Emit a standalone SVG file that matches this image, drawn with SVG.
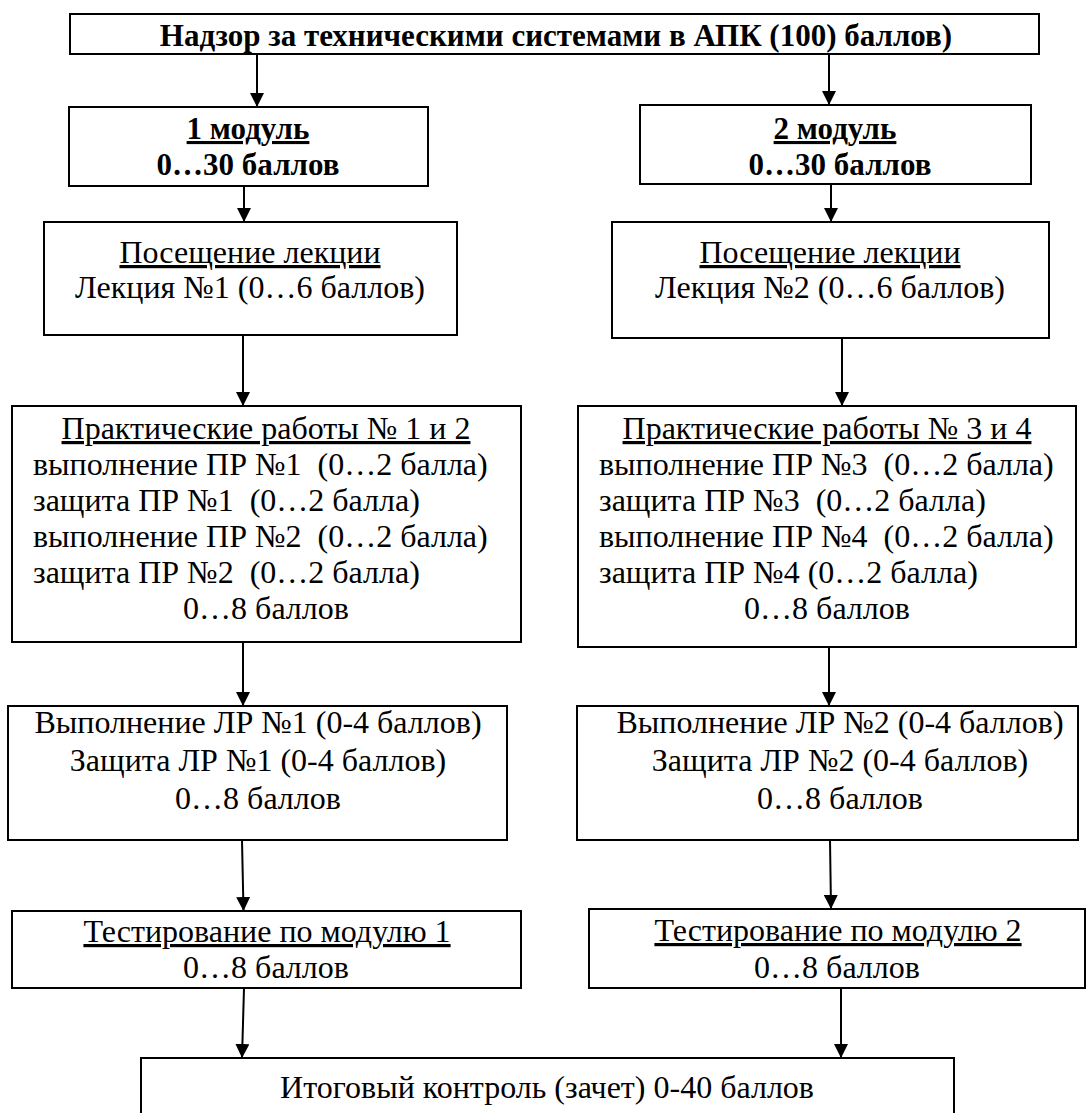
<svg xmlns="http://www.w3.org/2000/svg" width="1090" height="1113" viewBox="0 0 1090 1113">
<style>
  .box { fill: #fff; stroke: #000; stroke-width: 2; }
  .t { font-size: 32px; }
  .b { font-size: 31px; font-weight: bold; }
  .c { text-anchor: middle; }
  .u { text-decoration: underline; }
  .conn line { stroke: #000; stroke-width: 2; }
</style>
<defs>
  <marker id="ah" markerWidth="14" markerHeight="14" viewBox="0 0 14 14" refX="14" refY="7" orient="auto" markerUnits="userSpaceOnUse">
    <path d="M0,0 L14,7 L0,14 Z" fill="#000"/>
  </marker>
</defs>
<rect width="1090" height="1113" fill="#fff"/>

<g id="top">
  <rect class="box" x="70" y="14" width="969" height="40"/>
  <text class="b c" font-family="Times New Roman" x="556" y="46">Надзор за техническими системами в АПК (100) баллов)</text>
</g>

<g id="module1">
  <rect class="box" x="69" y="107" width="359" height="79"/>
  <text class="b c u" font-family="Times New Roman" x="248" y="139">1 модуль</text>
  <text class="b c" font-family="Times New Roman" x="248" y="175">0…30 баллов</text>
</g>

<g id="module2">
  <rect class="box" x="640" y="105" width="391" height="79"/>
  <text class="b c u" font-family="Times New Roman" x="835" y="139">2 модуль</text>
  <text class="b c" font-family="Times New Roman" x="840" y="175">0…30 баллов</text>
</g>

<g id="lecture1">
  <rect class="box" x="44" y="222" width="413" height="113"/>
  <text class="t c u" font-family="Times New Roman" x="250" y="263">Посещение лекции</text>
  <text class="t c" font-family="Times New Roman" x="250" y="298">Лекция №1 (0…6 баллов)</text>
</g>

<g id="lecture2">
  <rect class="box" x="612" y="222" width="437" height="116"/>
  <text class="t c u" font-family="Times New Roman" x="830" y="263">Посещение лекции</text>
  <text class="t c" font-family="Times New Roman" x="830" y="298">Лекция №2 (0…6 баллов)</text>
</g>

<g id="pr1">
  <rect class="box" x="12" y="406" width="509" height="236"/>
  <text class="t c u" font-family="Times New Roman" x="266" y="439">Практические работы № 1 и 2</text>
  <text class="t" font-family="Times New Roman" x="33" y="475">выполнение ПР №1 &#160;(0…2 балла)</text>
  <text class="t" font-family="Times New Roman" x="33" y="511">защита ПР №1 &#160;(0…2 балла)</text>
  <text class="t" font-family="Times New Roman" x="33" y="547">выполнение ПР №2 &#160;(0…2 балла)</text>
  <text class="t" font-family="Times New Roman" x="33" y="583">защита ПР №2 &#160;(0…2 балла)</text>
  <text class="t c" font-family="Times New Roman" x="266" y="619">0…8 баллов</text>
</g>

<g id="pr2">
  <rect class="box" x="578" y="406" width="498" height="241"/>
  <text class="t c u" font-family="Times New Roman" x="827" y="439">Практические работы № 3 и 4</text>
  <text class="t" font-family="Times New Roman" x="599" y="475">выполнение ПР №3 &#160;(0…2 балла)</text>
  <text class="t" font-family="Times New Roman" x="599" y="511">защита ПР №3 &#160;(0…2 балла)</text>
  <text class="t" font-family="Times New Roman" x="599" y="547">выполнение ПР №4 &#160;(0…2 балла)</text>
  <text class="t" font-family="Times New Roman" x="599" y="583">защита ПР №4 (0…2 балла)</text>
  <text class="t c" font-family="Times New Roman" x="827" y="619">0…8 баллов</text>
</g>

<g id="lr1">
  <rect class="box" x="8" y="706" width="499" height="134"/>
  <text class="t c" font-family="Times New Roman" x="258" y="733">Выполнение ЛР №1 (0-4 баллов)</text>
  <text class="t c" font-family="Times New Roman" x="258" y="771">Защита ЛР №1 (0-4 баллов)</text>
  <text class="t c" font-family="Times New Roman" x="258" y="809">0…8 баллов</text>
</g>

<g id="lr2">
  <rect class="box" x="577" y="706" width="501" height="134"/>
  <text class="t c" font-family="Times New Roman" x="840" y="733">Выполнение ЛР №2 (0-4 баллов)</text>
  <text class="t c" font-family="Times New Roman" x="840" y="771">Защита ЛР №2 (0-4 баллов)</text>
  <text class="t c" font-family="Times New Roman" x="840" y="809">0…8 баллов</text>
</g>

<g id="test1">
  <rect class="box" x="12" y="911" width="509" height="77"/>
  <text class="t c u" font-family="Times New Roman" x="267" y="942">Тестирование по модулю 1</text>
  <text class="t c" font-family="Times New Roman" x="266" y="978">0…8 баллов</text>
</g>

<g id="test2">
  <rect class="box" x="589" y="909" width="496" height="79"/>
  <text class="t c u" font-family="Times New Roman" x="838" y="941">Тестирование по модулю 2</text>
  <text class="t c" font-family="Times New Roman" x="837" y="978">0…8 баллов</text>
</g>

<g id="final">
  <rect class="box" x="141" y="1058" width="813" height="70"/>
  <text class="t c" font-family="Times New Roman" x="547" y="1098">Итоговый контроль (зачет) 0-40 баллов</text>
</g>

<g id="connectors" class="conn">
  <line x1="257" y1="54" x2="257" y2="107" marker-end="url(#ah)"/>
  <line x1="829" y1="54" x2="829" y2="105" marker-end="url(#ah)"/>
  <line x1="244" y1="186" x2="244" y2="222" marker-end="url(#ah)"/>
  <line x1="831" y1="184" x2="831" y2="222" marker-end="url(#ah)"/>
  <line x1="243" y1="335" x2="243" y2="406" marker-end="url(#ah)"/>
  <line x1="842" y1="338" x2="842" y2="406" marker-end="url(#ah)"/>
  <line x1="243" y1="642" x2="243" y2="706" marker-end="url(#ah)"/>
  <line x1="829" y1="647" x2="829" y2="706" marker-end="url(#ah)"/>
  <line x1="242" y1="840" x2="243.5" y2="911" marker-end="url(#ah)"/>
  <line x1="830" y1="840" x2="831" y2="909" marker-end="url(#ah)"/>
  <line x1="244" y1="988" x2="242" y2="1058" marker-end="url(#ah)"/>
  <line x1="841" y1="988" x2="841" y2="1058" marker-end="url(#ah)"/>
</g>
</svg>
